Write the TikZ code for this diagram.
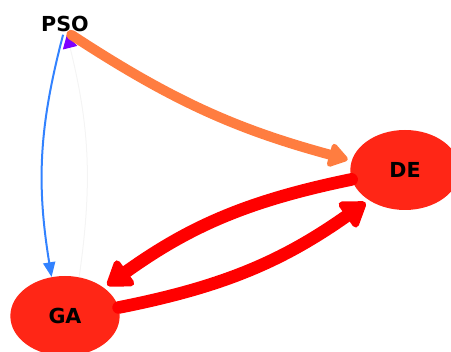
\documentclass[tikz,border=0pt]{standalone}
\usepackage{fontspec}
\setmainfont{DejaVu Sans}
\usetikzlibrary{arrows.meta, shapes.geometric}
\definecolor{nodered}{RGB}{255,38,22}
\definecolor{edgeorange}{RGB}{255,125,64}
\definecolor{edgered}{RGB}{255,0,0}
\definecolor{edgeblue}{RGB}{50,130,255}
\definecolor{edgepurple}{RGB}{125,0,255}
\definecolor{edgefaint}{RGB}{244,244,244}

\begin{document}
\begin{tikzpicture}[x=0.75pt, y=-0.75pt,
  algo/.style={ellipse, fill=nodered, minimum width=82pt, minimum height=60pt, font=\fontsize{15.5}{18}\selectfont\bfseries},
  plain/.style={inner sep=2pt, font=\fontsize{15.5}{18}\selectfont\bfseries},
  thickred/.style={edgered, line width=9.5pt, line cap=round, -{Triangle[length=20pt, width=26pt, round]}},
  thickorange/.style={edgeorange, line width=7.5pt, line cap=round, -{Triangle[length=16pt, width=20pt, round]}}]
\useasboundingbox (0,0) rectangle (451,352);
% nodes
\node[algo] (de) at (405,170) {DE};
\node[algo] (ga) at (65,316) {GA};
\node[plain] (pso) at (65,24) {PSO};
% thin edges
\draw[edgeblue, line width=1.5pt, -{Triangle[length=11pt, width=9pt]}] (pso.-100) to[bend right=12] (ga.109);
\draw[edgefaint, line width=0.75pt, -{Triangle[length=10pt, width=11pt, color=edgepurple]}] (ga.70) to[bend right=11] (pso.-80);
% thick edges
\draw[thickorange, shorten >=3pt] (pso.-60) to[bend right=9] (de.170);
\draw[thickred, shorten >=3pt] (de.190) to[bend right=12] (ga.36);
\draw[thickred, shorten >=3pt] (ga.9) to[bend right=12] (de.220);
\end{tikzpicture}
\end{document}
